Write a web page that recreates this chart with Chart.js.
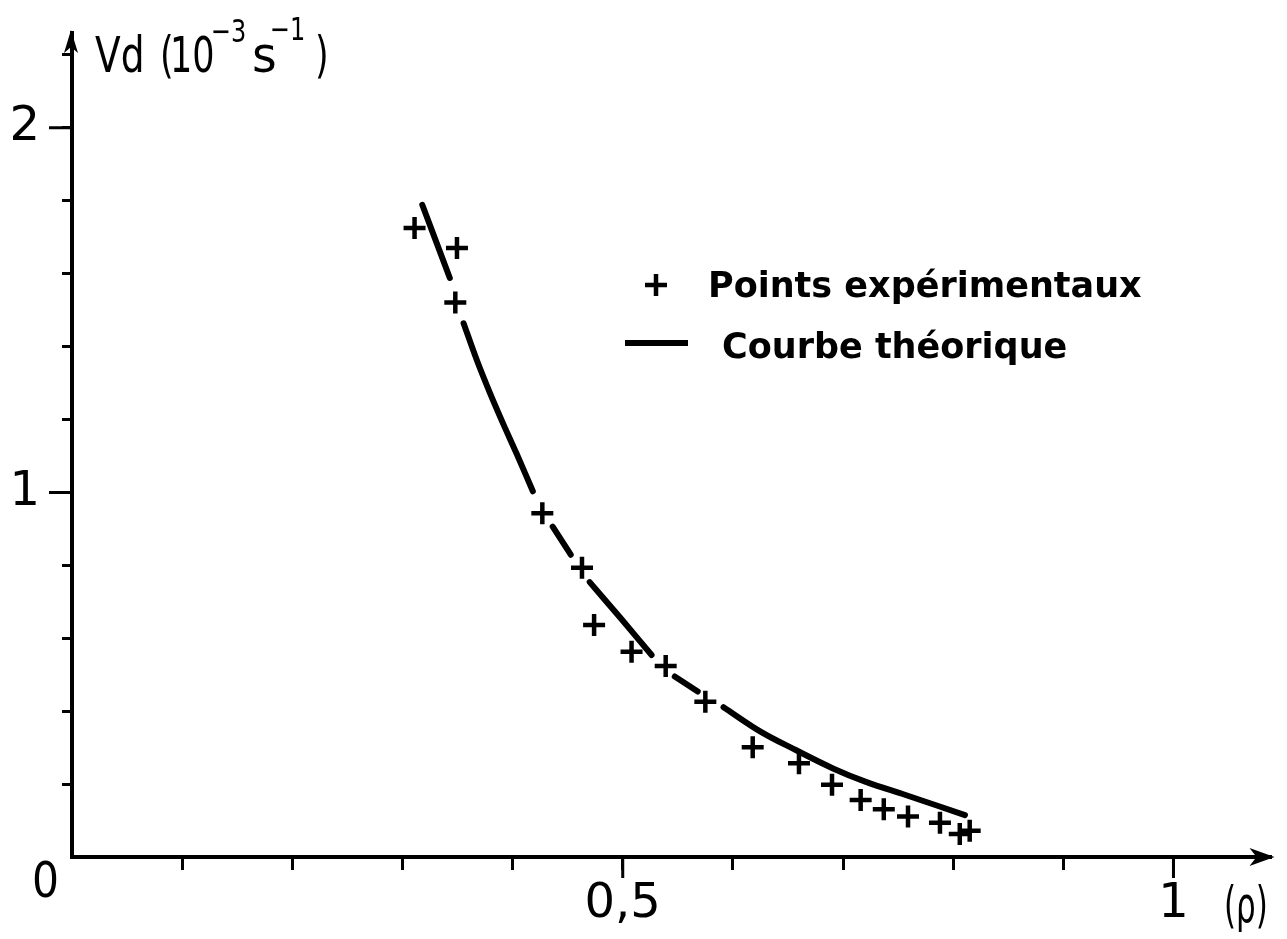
<!DOCTYPE html>
<html>
<head>
<meta charset="utf-8">
<script src="https://cdn.jsdelivr.net/npm/chart.js@4.4.1/dist/chart.umd.min.js"></script>
<style>
	html, body { margin: 0; padding: 0; background: #fff; }
	#wrap { width: 1287px; height: 939px; }
</style>
</head>
<body>
<div id="wrap"><canvas id="myChart"></canvas></div>
<script>
// experimental points (rho, Vd in 10^-3 s^-1)
const pointsX = [0.311, 0.3495, 0.348, 0.427, 0.463, 0.474, 0.508, 0.539, 0.575, 0.618, 0.660, 0.690, 0.716, 0.737, 0.759, 0.788, 0.806, 0.815];
const pointsY = [1.725, 1.670, 1.521, 0.943, 0.793, 0.636, 0.563, 0.524, 0.426, 0.301, 0.257, 0.198, 0.156, 0.131, 0.111, 0.094, 0.063, 0.072];

// theoretical curve, null where the pen was lifted around a cross
const curveX = [0.318, 0.343, 0.349, 0.3555, 0.3675, 0.3794, 0.3915, 0.4034, 0.4184, 0.428, 0.4364, 0.4528, 0.461, 0.470, 0.4978, 0.5262, 0.536, 0.5472, 0.5681, 0.580, 0.5915, 0.6251, 0.6580, 0.6909, 0.7208, 0.7568, 0.8107];
const curveY = [1.789, 1.588, null, 1.464, 1.363, 1.273, 1.188, 1.108, 1.003, null, 0.906, 0.829, null, 0.754, 0.656, 0.554, null, 0.495, 0.454, null, 0.411, 0.344, 0.292, 0.243, 0.206, 0.170, 0.115];

// labelled ticks
const xLabelValues = [0.5, 1];
const xLabelTexts = ['0,5', '1'];
const yLabelValues = [1, 2];
const yLabelTexts = ['1', '2'];

const seriesNames = ['Points expérimentaux', 'Courbe théorique'];

const ink = '#000';
const axisFamily = '"DejaVu Sans", sans-serif';

function labelFor(values, texts, v) {
	const i = values.findIndex((t) => Math.abs(t - v) < 1e-6);
	return i >= 0 ? texts[i] : '';
}

function tickColor(c) {
	return Math.abs(c.tick.value) < 1e-6 ? 'rgba(0,0,0,0)' : ink;
}

// the original lettering is narrow, squeeze the text horizontally
function narrowText(ctx, text, x, y, sx) {
	ctx.save();
	ctx.translate(x, y);
	ctx.scale(sx, 1);
	ctx.fillText(text, 0, 0);
	ctx.restore();
}

const inkPlugin = {
	id: 'ink',
	afterDraw(chart) {
		const { ctx } = chart;
		const x = chart.scales.x;
		const y = chart.scales.y;
		const x0 = x.getPixelForValue(0);
		const y0 = y.getPixelForValue(0);
		const right = chart.chartArea.right;
		const top = chart.chartArea.top;

		ctx.save();
		ctx.strokeStyle = ink;
		ctx.fillStyle = ink;
		ctx.lineWidth = 3;

		// longer ticks at the labelled values
		ctx.beginPath();
		xLabelValues.forEach((v) => {
			const px = x.getPixelForValue(v);
			ctx.moveTo(px, y0);
			ctx.lineTo(px, y0 + 21);
		});
		yLabelValues.forEach((v) => {
			const py = y.getPixelForValue(v);
			ctx.moveTo(x0, py);
			ctx.lineTo(x0 - 23, py);
		});
		ctx.stroke();

		// arrow heads
		ctx.beginPath();
		ctx.moveTo(right + 3, y0);
		ctx.lineTo(right - 22, y0 - 9);
		ctx.lineTo(right - 15, y0);
		ctx.lineTo(right - 22, y0 + 9);
		ctx.closePath();
		ctx.fill();
		ctx.beginPath();
		ctx.moveTo(x0 - 1, top - 3);
		ctx.lineTo(x0 - 8, top + 20);
		ctx.lineTo(x0 - 1, top + 14);
		ctx.lineTo(x0 + 6, top + 20);
		ctx.closePath();
		ctx.fill();

		// axis texts
		ctx.textBaseline = 'alphabetic';
		ctx.textAlign = 'left';
		ctx.font = '50px ' + axisFamily;
		narrowText(ctx, '0', x0 - 40, y0 + 40, 0.85);
		narrowText(ctx, 'Vd', 95, 72, 0.75);
		narrowText(ctx, '(', 160, 72, 0.7);
		narrowText(ctx, '10', 170, 72, 0.7);
		narrowText(ctx, 's', 252, 72, 0.95);
		narrowText(ctx, ')', 315, 72, 0.7);
		narrowText(ctx, '(ρ)', 1224, 922, 0.62);
		ctx.font = '32px ' + axisFamily;
		narrowText(ctx, '−3', 211, 42, 0.75);
		narrowText(ctx, '−1', 270, 40, 0.75);

		// legend
		ctx.lineWidth = 4.5;
		Chart.helpers.drawPoint(ctx, { pointStyle: 'cross', radius: 11, borderWidth: 4.5 }, 656, 285);
		ctx.lineWidth = 6;
		ctx.beginPath();
		ctx.moveTo(625, 343);
		ctx.lineTo(688, 343);
		ctx.stroke();
		ctx.font = 'bold 35px "DejaVu Sans", sans-serif';
		ctx.fillText(seriesNames[0], 708, 297);
		ctx.fillText(seriesNames[1], 722, 358);

		ctx.restore();
	},
};

document.addEventListener('DOMContentLoaded', () => {
	const ctx = document.getElementById('myChart');

	new Chart(ctx, {
		type: 'scatter',
		data: {
			datasets: [
				{
					label: seriesNames[0],
					data: pointsX.map((v, i) => ({ x: v, y: pointsY[i] })),
					pointStyle: 'cross',
					pointRadius: 11,
					pointBorderWidth: 4.5,
					borderColor: ink,
					backgroundColor: ink,
				},
				{
					label: seriesNames[1],
					data: curveX.map((v, i) => ({ x: v, y: curveY[i] })),
					showLine: true,
					spanGaps: false,
					pointRadius: 0,
					borderWidth: 6,
					borderColor: ink,
					borderCapStyle: 'round',
					tension: 0.35,
				},
			],
		},
		options: {
			responsive: true,
			maintainAspectRatio: false,
			animation: false,
			events: [],
			layout: { padding: { top: 33, right: 4, left: 0, bottom: 0 } },
			plugins: {
				legend: { display: false },
				tooltip: { enabled: false },
			},
			scales: {
				x: {
					type: 'linear',
					min: 0,
					max: 1.089,
					afterFit: (scale) => {
						scale.height = 82;
						scale.paddingLeft = 0;
						scale.paddingRight = 0;
					},
					border: { display: true, color: ink, width: 4 },
					grid: {
						drawOnChartArea: false,
						drawTicks: true,
						tickLength: 13,
						tickWidth: 3,
						tickColor: tickColor,
					},
					ticks: {
						stepSize: 0.1,
						includeBounds: false,
						autoSkip: false,
						maxRotation: 0,
						padding: 6,
						color: ink,
						font: { family: axisFamily, size: 48 },
						callback: (v) => labelFor(xLabelValues, xLabelTexts, v),
					},
				},
				y: {
					type: 'linear',
					min: 0,
					max: 2.26,
					afterFit: (scale) => {
						scale.width = 72;
						scale.paddingTop = 0;
						scale.paddingBottom = 0;
					},
					border: { display: true, color: ink, width: 4 },
					grid: {
						drawOnChartArea: false,
						drawTicks: true,
						tickLength: 10,
						tickWidth: 3,
						tickColor: tickColor,
					},
					ticks: {
						stepSize: 0.2,
						includeBounds: false,
						autoSkip: false,
						padding: 22,
						color: ink,
						font: { family: axisFamily, size: 48 },
						callback: (v) => labelFor(yLabelValues, yLabelTexts, v),
					},
				},
			},
		},
		plugins: [inkPlugin],
	});
});
</script>
</body>
</html>
